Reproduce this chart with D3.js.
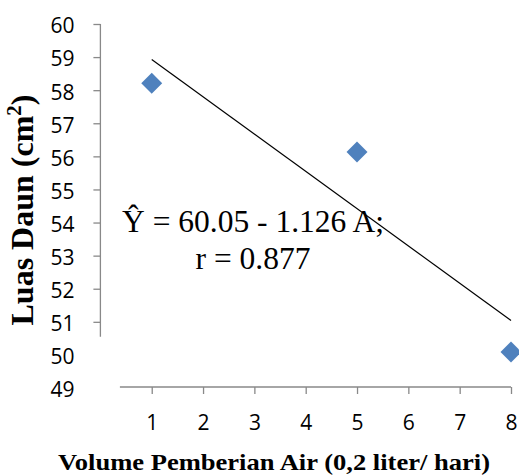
<!DOCTYPE html>
<html>
<head>
<meta charset="utf-8">
<script src="https://cdn.jsdelivr.net/npm/d3@7"></script>
<style>
  html, body { margin: 0; padding: 0; background: #fff; }
  svg { display: block; }
</style>
</head>
<body>
<svg id="chart" width="519" height="476"></svg>
<script>
// ---- data ----
const xValues = [1, 5, 8];
const yValues = [58.21, 56.13, 50.09];
const xTicks = [1, 2, 3, 4, 5, 6, 7, 8];
const yTicks = [49, 50, 51, 52, 53, 54, 55, 56, 57, 58, 59, 60];
const regIntercept = 60.05;
const regSlope = -1.126;
const trendRange = [1, 8];
const equationLines = ["\u0176 = 60.05 - 1.126 A;", "r = 0.877"];
const xTitle = "Volume Pemberian Air (0,2 liter/ hari)";
const yTitle = "Luas Daun (cm";

// ---- layout ----
const svg = d3.select("#chart");
const x = d3.scaleLinear().domain([0, 8]).range([100.4, 511]);
const y = d3.scaleLinear().domain([49, 60]).range([388, 24]);
const axisColor = "#898989";
const numFont = "'Open Sans', sans-serif";
const serif = "'Liberation Serif', 'Times New Roman', serif";

// Y axis
const yAxis = d3.axisLeft(y).tickValues(yTicks).tickSize(7).tickSizeOuter(0).tickPadding(19).tickFormat(d3.format("d"));
const gy = svg.append("g").attr("transform", `translate(${x(0)},0)`).call(yAxis);
gy.select(".domain").remove();
gy.selectAll(".tick line").attr("stroke", axisColor).attr("stroke-width", 1.3)
  .attr("display", d => d < 51 ? "none" : null);
gy.selectAll(".tick text").attr("font-family", numFont).attr("font-size", 21)
  .attr("fill", "#000").attr("dy", "0.42em");
gy.append("line").attr("x1", 0).attr("x2", 0).attr("y1", y(60)).attr("y2", y(50.55))
  .attr("stroke", axisColor).attr("stroke-width", 1.3);

// X axis
const xAxis = d3.axisBottom(x).tickValues(xTicks).tickSize(7).tickSizeOuter(0).tickFormat(d3.format("d"));
const gx = svg.append("g").attr("transform", `translate(0,${y(49) - 1})`).call(xAxis);
gx.select(".domain").remove();
gx.selectAll(".tick line").attr("stroke", axisColor).attr("stroke-width", 1.3);
gx.selectAll(".tick text").attr("font-family", numFont).attr("font-size", 21)
  .attr("fill", "#000").attr("y", 28).attr("dy", "0.71em");
gx.append("line").attr("x1", x(0.38)).attr("x2", x(8)).attr("y1", 0).attr("y2", 0)
  .attr("stroke", axisColor).attr("stroke-width", 1.3);

// trend line
svg.append("line")
  .attr("x1", x(trendRange[0])).attr("y1", y(regIntercept + regSlope * trendRange[0]))
  .attr("x2", x(trendRange[1])).attr("y2", y(regIntercept + regSlope * trendRange[1]))
  .attr("stroke", "#000").attr("stroke-width", 1.2);

// points
const pts = xValues.map((v, i) => ({ x: v, y: yValues[i] }));
svg.append("g").selectAll("path").data(pts).join("path")
  .attr("d", d3.symbol(d3.symbolSquare, 220))
  .attr("transform", d => `translate(${x(d.x)},${y(d.y)}) rotate(45)`)
  .attr("fill", "#4F81BD");

// equation
const eq = svg.append("text").attr("font-family", serif).attr("font-size", 31.5)
  .attr("text-anchor", "middle").attr("fill", "#000");
equationLines.forEach((t, i) => {
  eq.append("tspan").attr("x", 253).attr("y", 231.5 + i * 37.5).text(t);
});

// x title
svg.append("text").attr("x", 274).attr("y", 470)
  .attr("text-anchor", "middle").attr("font-family", serif).attr("font-weight", "bold")
  .attr("font-size", 23.5).attr("textLength", 432).attr("lengthAdjust", "spacingAndGlyphs")
  .attr("fill", "#000").text(xTitle);

// y title
const yt = svg.append("text").attr("transform", "translate(33,210) rotate(-90)")
  .attr("text-anchor", "middle").attr("font-family", serif).attr("font-weight", "bold")
  .attr("font-size", 32).attr("fill", "#000");
yt.append("tspan").text(yTitle);
yt.append("tspan").attr("font-size", 21).attr("dy", "-0.55em").text("2");
yt.append("tspan").attr("dy", "0.37em").text(")");
</script>
</body>
</html>
